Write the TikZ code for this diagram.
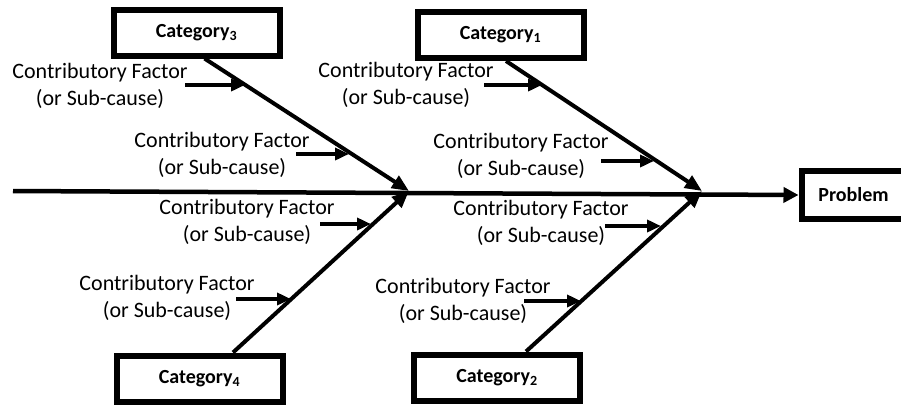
\documentclass[tikz,border=0pt]{standalone}
\usepackage{fontspec}
\setmainfont{Carlito}
\usetikzlibrary{arrows.meta}
\begin{document}
\begin{tikzpicture}[x=1pt,y=-1pt,
    catbox/.style={draw,line width=6pt,minimum width=166pt,minimum height=46pt,inner sep=0pt,font=\fontsize{20}{24}\selectfont\bfseries},
    cause/.style={align=center,inner sep=0pt,font=\fontsize{22}{27}\selectfont},
    bone/.style={line width=4pt,-{Triangle[length=17pt,width=14pt]}},
    subarrow/.style={line width=4pt,-{Triangle[length=14pt,width=12pt]}}]
      \useasboundingbox (0,0) rectangle (901,405);

      \node[catbox] (cat3) at(196.5,32.5){Category\textsubscript{3}};
      \node[catbox] (cat1) at(500.5,35){Category\textsubscript{1}};
      \node[catbox] (cat4) at(199.5,378.5){Category\textsubscript{4}};
      \node[catbox] (cat2) at(497,377.5){Category\textsubscript{2}};
      \node[catbox,minimum width=104pt,minimum height=48pt] (prob) at(853.5,195){Problem};

      \coordinate (tail) at(13,191);
      \coordinate (j1) at(409,191);
      \coordinate (j2) at(702,191);
      \draw[line width=4.5pt,-{Triangle[length=15pt,width=15pt]}] (tail) to (prob.west);

      % bones
      \draw[bone] ([xshift=8pt]cat3.south) to (j1);
      \draw[bone] ([xshift=5.5pt]cat1.south) to (j2);
      \draw[bone] ([xshift=33.5pt]cat4.north) to (j1);
      \draw[bone] ([xshift=29pt]cat2.north) to (j2);

      \node[cause] (f3a) at(100,86){Contributory Factor\\(or Sub-cause)};
      \node[cause] (f3b) at(222,155){Contributory Factor\\(or Sub-cause)};
      \node[cause] (f1a) at(406,85){Contributory Factor\\(or Sub-cause)};
      \node[cause] (f1b) at(521,156){Contributory Factor\\(or Sub-cause)};
      \node[cause] (f4a) at(247,222){Contributory Factor\\(or Sub-cause)};
      \node[cause] (f4b) at(167,298){Contributory Factor\\(or Sub-cause)};
      \node[cause] (f2a) at(541,223){Contributory Factor\\(or Sub-cause)};
      \node[cause] (f2b) at(463,301){Contributory Factor\\(or Sub-cause)};

      % sub-cause arrows: tail and tip on the bone
      \coordinate (t3a) at(185,85);   \coordinate (b3a) at(245,85);
      \coordinate (t3b) at(296,154);  \coordinate (b3b) at(349,154);
      \coordinate (t1a) at(484,85);   \coordinate (b1a) at(542,85);
      \coordinate (t1b) at(601,161);  \coordinate (b1b) at(654,161);
      \coordinate (t4a) at(320,224);  \coordinate (b4a) at(371,224);
      \coordinate (t4b) at(236,299);  \coordinate (b4b) at(291,299);
      \coordinate (t2a) at(605,226);  \coordinate (b2a) at(661,226);
      \coordinate (t2b) at(524,301);  \coordinate (b2b) at(581,301);

      \draw[subarrow] (t3a) to (b3a);
      \draw[subarrow] (t3b) to (b3b);
      \draw[subarrow] (t1a) to (b1a);
      \draw[subarrow] (t1b) to (b1b);
      \draw[subarrow] (t4a) to (b4a);
      \draw[subarrow] (t4b) to (b4b);
      \draw[subarrow] (t2a) to (b2a);
      \draw[subarrow] (t2b) to (b2b);

    \end{tikzpicture}
\end{document}
